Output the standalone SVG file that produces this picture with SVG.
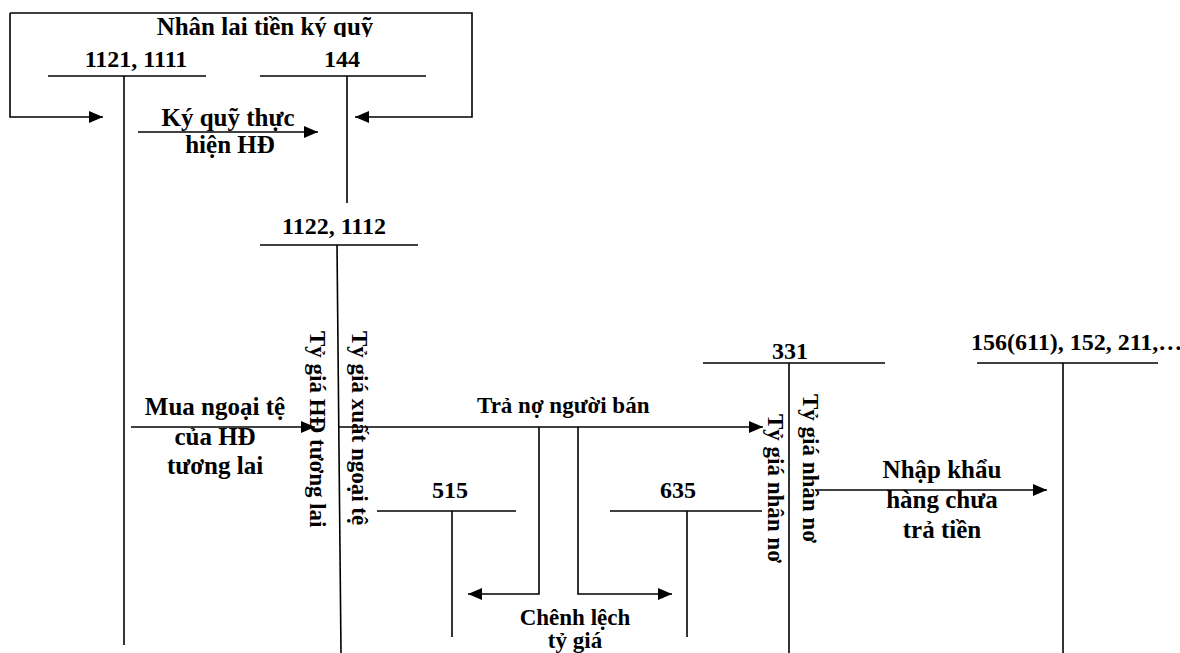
<svg xmlns="http://www.w3.org/2000/svg" width="1180" height="653" viewBox="0 0 1180 653">
<style>
text{font-family:"Liberation Serif","Times New Roman","DejaVu Serif",serif;font-weight:bold;fill:#000}
.a{font-size:23px}
.n{font-size:24px}
.b{font-size:25px}
.c{text-anchor:middle}
line,path{stroke:#000;stroke-width:1.6;fill:none}
</style>
<defs>
<marker id="ah" markerUnits="userSpaceOnUse" markerWidth="15" markerHeight="12" refX="14" refY="6" orient="auto">
<path d="M0,0 L14,6 L0,12 z" style="fill:#000;stroke:none"/>
</marker>
<clipPath id="clipTop"><rect x="0" y="0" width="1180" height="37"/></clipPath>
</defs>
<rect width="1180" height="653" fill="#fff"/>

<g id="connectors">
<path d="M10,13 H472 V117 H355" marker-end="url(#ah)"/>
<path d="M10,13 V117 H103" marker-end="url(#ah)"/>
<path d="M138,132 H318" marker-end="url(#ah)"/>
<path d="M131,427 H315" marker-end="url(#ah)"/>
<path d="M338,427 H763" marker-end="url(#ah)"/>
<path d="M539,427 V594 H468" marker-end="url(#ah)"/>
<path d="M578,427 V594 H672" marker-end="url(#ah)"/>
<path d="M815,490 H1047" marker-end="url(#ah)"/>
</g>

<g id="labels" font-family="Liberation Serif, serif">
<text class="b c" x="265" y="35" clip-path="url(#clipTop)">Nhân lai tiền ký quỹ</text>
<text class="b c" x="228" y="126">Ký quỹ thực</text>
<text class="b c" x="230" y="153">hiện HĐ</text>
<text class="b c" x="215" y="415">Mua ngoại tệ</text>
<text class="b c" x="215" y="445">của HĐ</text>
<text class="b c" x="215" y="474">tương lai</text>
<text class="a" x="477" y="413">Trả nợ người bán</text>
<text class="a c" x="575" y="625">Chênh lệch</text>
<text class="a c" x="575" y="648">tỷ giá</text>
<text class="b c" x="942" y="478">Nhập khẩu</text>
<text class="b c" x="942" y="508">hàng chưa</text>
<text class="b c" x="942" y="538">trả tiền</text>
<text class="a" transform="translate(310,331) rotate(90)">Tỷ giá HĐ tương lai</text>
<text class="a" transform="translate(352,331) rotate(90)">Tỷ giá xuất ngoại tệ</text>
<text class="a" transform="translate(768,414) rotate(90)">Tỷ giá nhân nơ</text>
<text class="a" transform="translate(803,394) rotate(90)">Tỷ giá nhân nơ</text>
</g>

<g id="acc-1121">
<text class="n c" x="136" y="67">1121, 1111</text>
<line x1="48" y1="76" x2="206" y2="76"/>
<line x1="124" y1="76" x2="124" y2="645"/>
</g>
<g id="acc-144">
<text class="n c" x="342" y="67">144</text>
<line x1="260" y1="76" x2="426" y2="76"/>
<line x1="347" y1="76" x2="347" y2="203"/>
</g>
<g id="acc-1122">
<text class="n c" x="334" y="234">1122, 1112</text>
<line x1="260" y1="245" x2="418" y2="245"/>
<line x1="337" y1="245" x2="341" y2="653"/>
</g>
<g id="acc-515">
<text class="n c" x="450" y="498">515</text>
<line x1="377" y1="511" x2="516" y2="511"/>
<line x1="452" y1="511" x2="452" y2="637"/>
</g>
<g id="acc-635">
<text class="n c" x="678" y="498">635</text>
<line x1="610" y1="511" x2="762" y2="511"/>
<line x1="687" y1="511" x2="687" y2="637"/>
</g>
<g id="acc-331">
<text class="n c" x="790" y="359">331</text>
<line x1="703" y1="363" x2="885" y2="363"/>
<line x1="789" y1="363" x2="789" y2="653"/>
</g>
<g id="acc-156">
<text class="n" x="971" y="350">156(611), 152, 211,…</text>
<line x1="977" y1="363" x2="1158" y2="363"/>
<line x1="1063" y1="363" x2="1063" y2="653"/>
</g>
</svg>
